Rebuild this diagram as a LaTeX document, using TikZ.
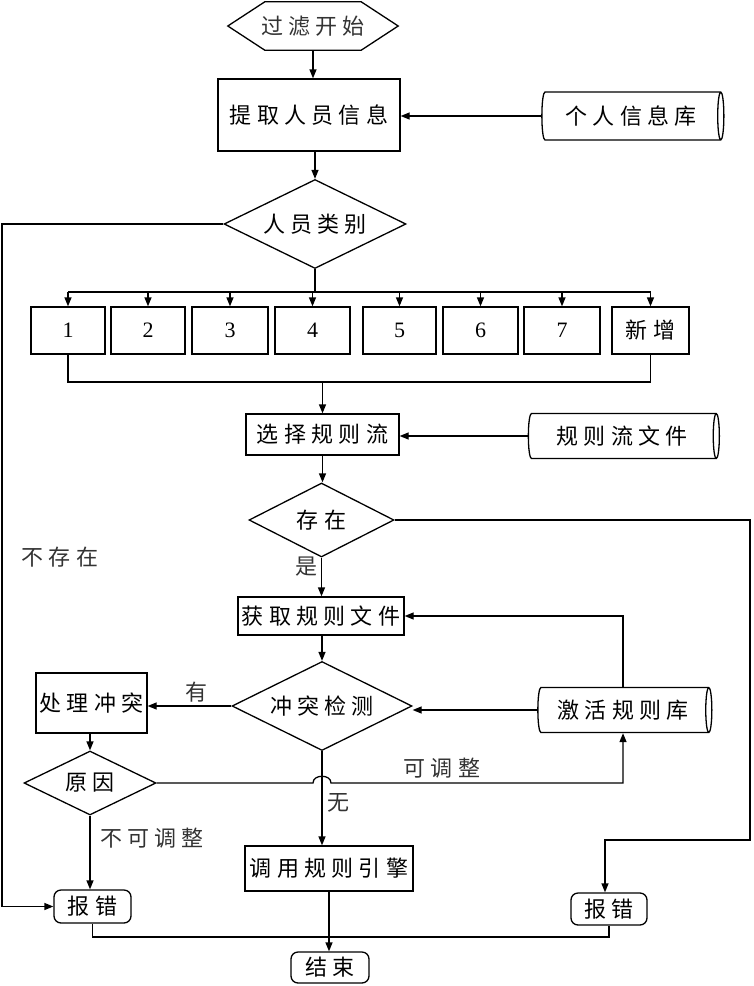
\documentclass[tikz,border=0pt]{standalone}
\usepackage{fontspec}
\setmainfont{Liberation Serif}
\newfontfamily\cjk[LetterSpace=24]{Noto Sans CJK SC}
\usetikzlibrary{shapes.geometric,arrows.meta,calc}
\begin{document}
\begin{tikzpicture}[x=1pt,y=-1pt,
  every node/.style={inner sep=0pt, text=black!80, font=\cjk\fontsize{22}{25}\selectfont},
  ln/.style={line width=1.3pt, black},
  arr/.style={ln, -{Triangle[length=9pt,width=7pt]}},
  box/.style={draw, ln, rectangle},
  dia/.style={draw, ln, diamond, aspect=2},
  cyl/.style={draw, ln, cylinder, aspect=0.3},
  term/.style={draw, ln, rectangle, rounded corners=7pt},
  lbl/.style={},
  num/.style={box, font=\fontsize{22}{25}\selectfont, minimum height=47pt}
]
\useasboundingbox (0,0) rectangle (753,986);

% nodes
\node (start) [minimum width=170pt, minimum height=48pt] at (313,26) {过滤开始};
\draw[ln] (start.west) -- ($(start.north west)+(37,0)$) -- ($(start.north east)+(-37,0)$) -- (start.east) -- ($(start.south east)+(-37,0)$) -- ($(start.south west)+(37,0)$) -- cycle;

\node[box, minimum width=182pt, minimum height=72pt] (extract) at (309,115) {提取人员信息};
\node[cyl, minimum height=182pt, minimum width=48pt] (pinfo) at (631,116) {个人信息库};
\node[dia, minimum width=182pt, minimum height=89pt] (cat) at (315,224) {人员类别};

\node[num, minimum width=74pt] (b1) at (68,330.5) {1};
\node[num, minimum width=74pt] (b2) at (148,330.5) {2};
\node[num, minimum width=76pt] (b3) at (230,330.5) {3};
\node[num, minimum width=75pt] (b4) at (312.5,330.5) {4};
\node[num, minimum width=73pt] (b5) at (399.5,330.5) {5};
\node[num, minimum width=75pt] (b6) at (480.5,330.5) {6};
\node[num, minimum width=76pt] (b7) at (562,330.5) {7};
\node[box, minimum width=77pt, minimum height=47pt] (b8) at (650.5,330.5) {新增};

\node[box, minimum width=153pt, minimum height=41pt] (rulesel) at (322.5,434.5) {选择规则流};
\node[cyl, minimum height=191pt, minimum width=45pt] (rflow) at (622,436) {规则流文件};
\node[dia, minimum width=145pt, minimum height=74pt] (exist) at (321.5,520) {存在};
\node[box, minimum width=166pt, minimum height=38pt] (fetch) at (321,616) {获取规则文件};
\node[dia, minimum width=180pt, minimum height=89pt] (conf) at (322,706) {冲突检测};
\node[cyl, minimum height=174pt, minimum width=45pt] (arule) at (623,710) {激活规则库};
\node[box, minimum width=111pt, minimum height=60pt] (handle) at (91.5,703) {处理冲突};
\node[dia, minimum width=132pt, minimum height=64pt] (reason) at (90,783) {原因};
\node[box, minimum width=168pt, minimum height=45pt] (engine) at (329,868.5) {调用规则引擎};
\node[term, minimum width=77pt, minimum height=33pt] (err1) at (92.5,906.5) {报错};
\node[term, minimum width=76pt, minimum height=32pt] (err2) at (609,909) {报错};
\node[term, minimum width=78pt, minimum height=31pt] (end) at (330,967.5) {结束};

% labels
\node[lbl] (lyes) at (306,567) {是};
\node[lbl] (lnot) at (60,557) {不存在};
\node[lbl] (lhas) at (196,692) {有};
\node[lbl] (ladj) at (442,768) {可调整};
\node[lbl] (lnone) at (338,803) {无};
\node[lbl] (lnadj) at (152,838) {不可调整};

% connectors
\draw[arr] (start.south) -- (start.south |- extract.north);
\draw[arr] (pinfo.west) -- (pinfo.west -| extract.east);
\draw[arr] (cat.north |- extract.south) -- (cat.north);
\draw[arr] (cat.west) -- (cat.west -| 2,0) |- (err1.west);
\draw[ln] (cat.south) -- (cat.south |- 0,292);
\draw[ln] (b1.north |- 0,292) -- (b8.north |- 0,292);
\foreach \i in {1,...,8} \draw[arr] (b\i.north |- 0,292) -- (b\i.north);
\draw[ln] (b1.south) -- (b1.south |- 0,382) -- (b8.south |- 0,382) -- (b8.south);
\draw[arr] (rulesel.north |- 0,382) -- (rulesel.north);
\draw[arr] (rflow.west) -- (rflow.west -| rulesel.east);
\draw[arr] (rulesel.south) -- (rulesel.south |- exist.north);
\draw[arr] (exist.south) -- (exist.south |- fetch.north);
\draw[arr] (exist.east) -- (exist.east -| 750,0) -- (750,840) -- (605,840) -- (605,0 |- err2.north);
\draw[arr] (arule.north) |- (fetch.east);
\draw[arr] (fetch.south -| conf.north) -- (conf.north);
\draw[arr] (arule.west) -- (arule.west -| conf.east);
\draw[arr] (conf.west) -- (conf.west -| handle.east);
\draw[arr] (handle.south -| reason.north) -- (reason.north);
\draw[arr] (reason.east) -- (313,783) .. controls (313,774) and (331,774) .. (331,783) -| (arule.south);
\draw[arr] (conf.south) -- (conf.south |- engine.north);
\draw[arr] (reason.south) -- (reason.south |- err1.north);
\draw[arr] (engine.south) -- (engine.south |- end.north);
\draw[ln] (err1.south) -- (err1.south |- 0,937) -| (err2.south);
\end{tikzpicture}
\end{document}
